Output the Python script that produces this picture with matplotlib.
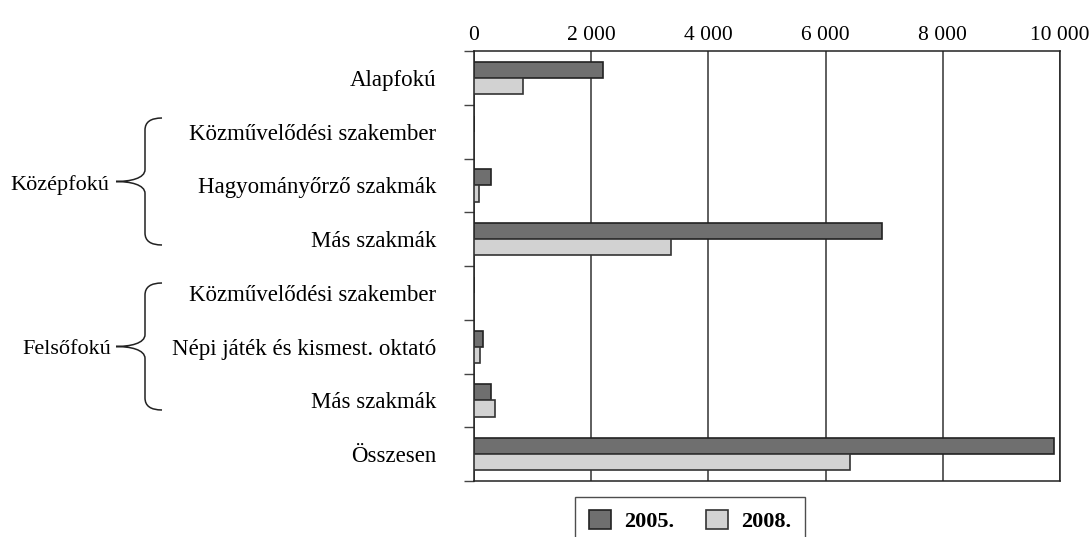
import matplotlib
matplotlib.use("Agg")
import matplotlib.pyplot as plt
from matplotlib.path import Path
from matplotlib.patches import PathPatch
from matplotlib.transforms import Affine2D
import numpy as np

categories = [
    "Alapfokú",
    "Közművelődési szakember",
    "Hagyományőrző szakmák",
    "Más szakmák",
    "Közművelődési szakember",
    "Népi játék és kismest. oktató",
    "Más szakmák",
    "Összesen",
]
v2005 = [2200, 0, 290, 6960, 0, 160, 285, 9900]
v2008 = [830, 0, 85, 3360, 0, 100, 365, 6410]
groups = ["Középfokú", "Felsőfokú"]
xticks = [0, 2000, 4000, 6000, 8000, 10000]
xticklabels = ["0", "2 000", "4 000", "6 000", "8 000", "10 000"]

W, H = 1089, 537
plt.rcParams["font.family"] = ["Liberation Serif", "DejaVu Serif"]
fig = plt.figure(figsize=(W / 100, H / 100), dpi=100)
ax = fig.add_axes([474 / W, 1 - 481 / H, 586 / W, 430 / H])

y = np.arange(len(categories))
h = 0.3
ax.barh(y - h / 2, v2005, height=h, color="#6f6f6f", edgecolor="#222222",
        linewidth=1.2, label="2005.", zorder=3)
ax.barh(y + h / 2, v2008, height=h, color="#d2d2d2", edgecolor="#333333",
        linewidth=1.2, label="2008.", zorder=3)

ax.set_ylim(len(categories) - 0.5, -0.5)
ax.set_xlim(0, 10000)
ax.set_yticks(y)
ax.set_yticklabels(categories, fontsize=16.5)
ax.set_yticks(np.arange(len(categories) + 1) - 0.5, minor=True)
ax.tick_params(axis="y", which="major", length=0, pad=27)
ax.tick_params(axis="y", which="minor", length=7, width=1, color="#444444")

ax.xaxis.tick_top()
ax.set_xticks(xticks)
ax.set_xticklabels(xticklabels, fontsize=15.5)
ax.tick_params(axis="x", length=0, pad=4)
ax.grid(axis="x", color="#333333", linewidth=1.1, zorder=0)
for s in ax.spines.values():
    s.set_color("#222222")
    s.set_linewidth(1.1)

# curly braces in pixel coords
px = Affine2D().scale(1 / W, -1 / H).translate(0, 1) + fig.transFigure


def brace(top, bot, xr=162, xv=145, xt=116):
    mid = (top + bot) / 2
    verts = [
        (xr, top), (xv, top), (xv, top + 12),
        (xv, mid - 12),
        (xv, mid - 3), (xt + 14, mid), (xt, mid),
        (xt + 14, mid), (xv, mid + 3), (xv, mid + 12),
        (xv, bot - 12),
        (xv, bot), (xr, bot),
    ]
    codes = [Path.MOVETO, Path.CURVE3, Path.CURVE3, Path.LINETO,
             Path.CURVE4, Path.CURVE4, Path.CURVE4,
             Path.CURVE4, Path.CURVE4, Path.CURVE4,
             Path.LINETO, Path.CURVE3, Path.CURVE3]
    fig.add_artist(PathPatch(Path(verts, codes), transform=px, fill=False,
                             lw=1.1, edgecolor="#222222"))


brace(118, 245)
brace(283, 410)
fig.text(10 / W, 1 - 185 / H, groups[0], fontsize=16, va="center", ha="left")
fig.text(22 / W, 1 - 350 / H, groups[1], fontsize=16, va="center", ha="left")

leg = fig.legend(loc="upper center", bbox_to_anchor=(690 / W, 1 - 497 / H),
                 ncol=2, frameon=True, fancybox=False, edgecolor="#222222",
                 prop={"weight": "bold", "size": 16}, handlelength=1.0,
                 handleheight=0.9, handletextpad=0.6, columnspacing=1.4,
                 borderpad=0.6, borderaxespad=0)
leg.get_frame().set_linewidth(1.0)

fig.savefig("out.png", dpi=100)
